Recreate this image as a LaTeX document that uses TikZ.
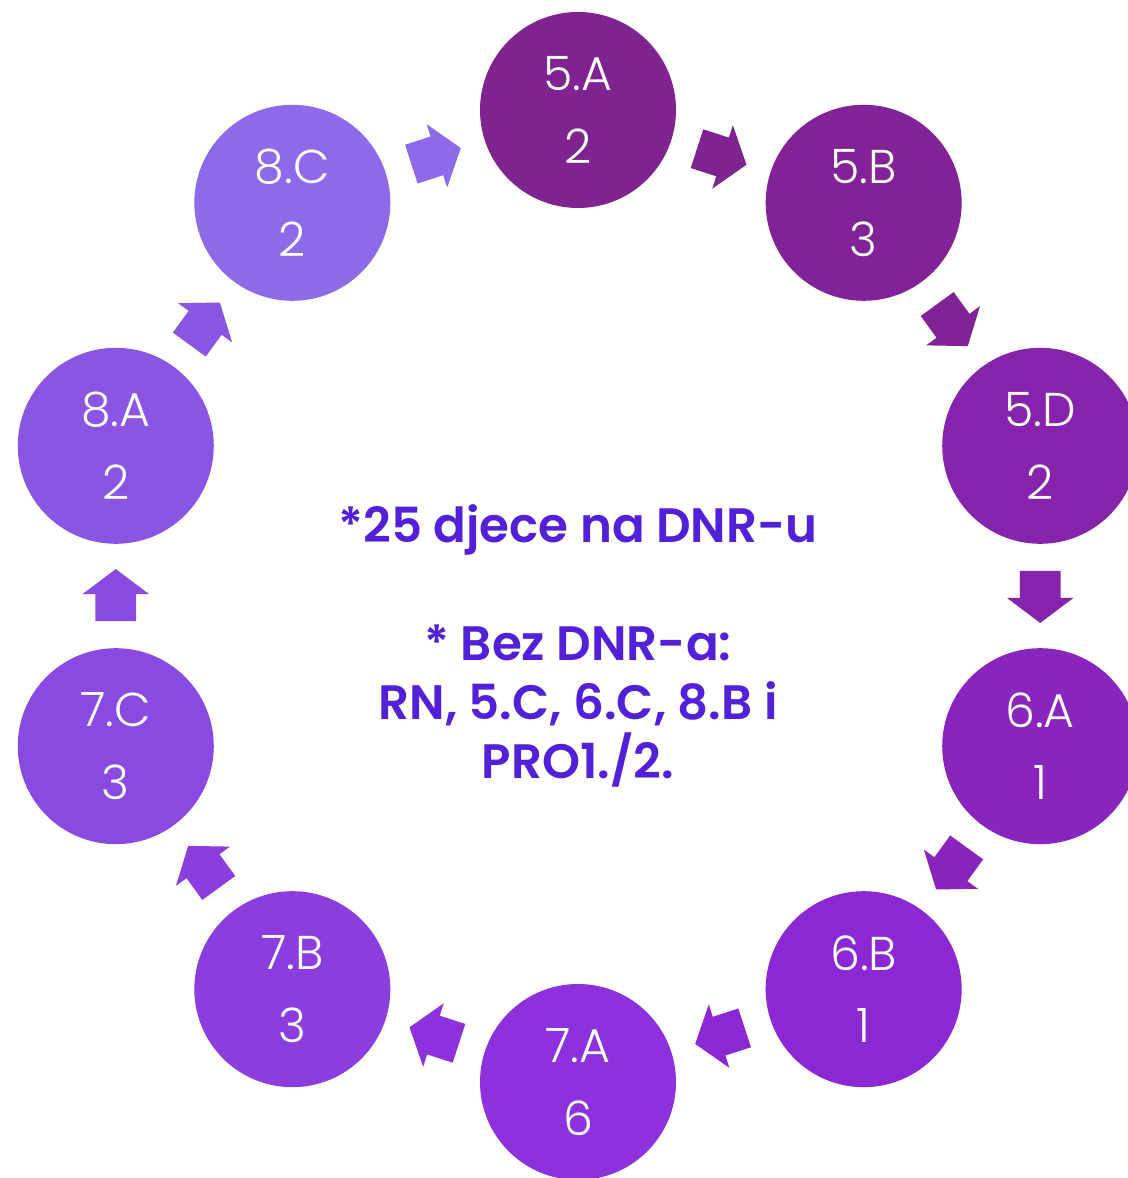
\documentclass[tikz,border=0pt]{standalone}
\usepackage{fontspec}
\setmainfont{Poppins}[UprightFont=* Light, BoldFont=* SemiBold]
\usepackage{tikz}
\usetikzlibrary{shapes.arrows}
\definecolor{cfiveA}{HTML}{7F2391}
\definecolor{cfiveB}{HTML}{812396}
\definecolor{cfiveD}{HTML}{8623AD}
\definecolor{csixA}{HTML}{8924BF}
\definecolor{csixB}{HTML}{8B28D4}
\definecolor{csevenA}{HTML}{8C31DC}
\definecolor{csevenB}{HTML}{8B3DDE}
\definecolor{csevenC}{HTML}{8A4AE1}
\definecolor{ceightA}{HTML}{8A55E3}
\definecolor{ceightC}{HTML}{8E69E9}
\definecolor{cnote}{HTML}{5220D8}
\tikzset{
  razred/.style={circle, minimum size=3.92cm, inner sep=0pt, text=white, align=center,
    font=\fontsize{27}{41.5}\selectfont, fill=#1},
  strelica/.style={single arrow, draw=none, fill=#1, inner sep=0pt,
    minimum height=1.04cm, single arrow head extend=0.26cm,
    single arrow tip angle=106, sloped, allow upside down, anchor=tail, pos=0.255},
  tok/.style={to path={-- node[strelica=#1] {\rule{0pt}{0.8cm}} (\tikztotarget)}}
}

\begin{document}
\begin{tikzpicture}
\useasboundingbox (-11.56,-11.64) rectangle (10.98,11.92);
\node[razred=cfiveA] (a5) at (90:9.72)  {5.A\\2};
\node[razred=cfiveB] (b5) at (54:9.72)  {5.B\\3};
\node[razred=cfiveD] (d5) at (18:9.72)  {5.D\\2};
\node[razred=csixA] (a6) at (-18:9.72)  {6.A\\1};
\node[razred=csixB] (b6) at (-54:9.72)  {6.B\\1};
\node[razred=csevenA] (a7) at (-90:9.72) {7.A\\6};
\node[razred=csevenB] (b7) at (-126:9.72) {7.B\\3};
\node[razred=csevenC] (c7) at (-162:9.72) {7.C\\3};
\node[razred=ceightA] (a8) at (162:9.72) {8.A\\2};
\node[razred=ceightC] (c8) at (126:9.72) {8.C\\2};

\node[text=cnote, align=center, font=\bfseries\fontsize{27.5}{33.5}\selectfont] (note) at (0,-1.0)
  {*25 djece na DNR-u\\[33.5pt]* Bez DNR-a:\\RN, 5.C, 6.C, 8.B i\\PRO1./2.};

\path[tok=cfiveA] (a5) to (b5);
\path[tok=cfiveB] (b5) to (d5);
\path[tok=cfiveD] (d5) to (a6);
\path[tok=csixA] (a6) to (b6);
\path[tok=csixB] (b6) to (a7);
\path[tok=csevenA] (a7) to (b7);
\path[tok=csevenB] (b7) to (c7);
\path[tok=csevenC] (c7) to (a8);
\path[tok=ceightA] (a8) to (c8);
\path[tok=ceightC] (c8) to (a5);
\end{tikzpicture}
\end{document}
